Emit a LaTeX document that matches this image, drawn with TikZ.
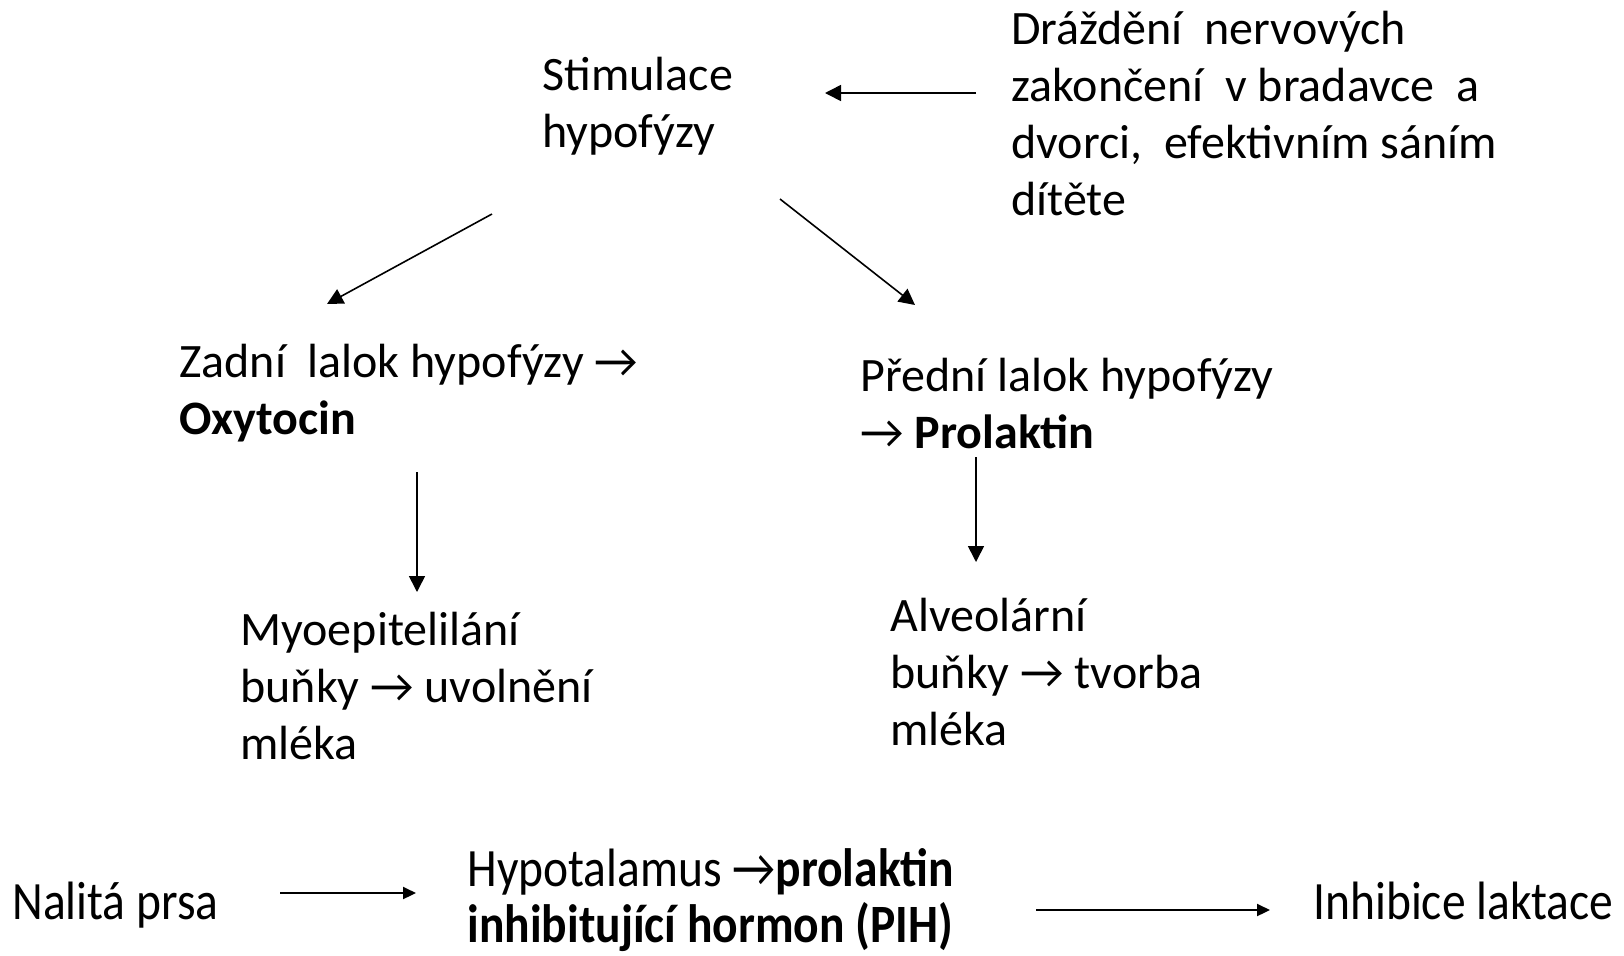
\documentclass[tikz,border=0pt]{standalone}
\usepackage{graphicx}
\usepackage{fontspec}
\setmainfont{Carlito}
\newfontfamily\squeezed[FakeStretch=0.88]{Carlito}
\usetikzlibrary{arrows.meta, calc, positioning}
\newcommand{\yields}{→}
\tikzset{
  txt/.style={inner sep=0pt, align=left, anchor=base west,
    font=\fontsize{24}{28.5}\selectfont},
  lowtxt/.style={inner sep=0pt, align=left, anchor=base west,
    font=\squeezed\fontsize{27}{28}\selectfont},
  flow/.style={-{Triangle[length=8pt,width=8pt]}, line width=0.8pt},
  lowflow/.style={-{Triangle[length=6.5pt,width=6pt]}, line width=1.1pt},
}
\begin{document}
\begin{tikzpicture}[x=0.5pt, y=-0.5pt]
  \useasboundingbox (0,0) rectangle (1624,955);
  % hypofyza (nodes sit on the baseline of their last line)
  \node[txt] (stim) at (542,147) {Stimulace\\hypofýzy};
  \node[txt] (drazd) at (1011,215) {Dráždění~ nervových\\zakončení~ v bradavce~ a\\dvorci,~ efektivním sáním\\dítěte};
  \node[txt] (zadni) at (179,434) {Zadní~ lalok hypofýzy \yields\\\textbf{Oxytocin}};
  \node[txt] (predni) at (860,448) {Přední lalok hypofýzy\\\yields{} \textbf{Prolaktin}};
  \node[txt] (myo) at (240,759) {Myoepitelilání\\buňky \yields{} uvolnění\\mléka};
  \node[txt] (alv) at (890,745) {Alveolární\\buňky \yields{} tvorba\\mléka};
  % inhibice
  \node[lowtxt] (nalita) at (12,919) {Nalitá prsa};
  \node[lowtxt] (hypot) at (467,942) {Hypotalamus \yields\textbf{prolaktin}\\\textbf{inhibitující hormon (PIH)}};
  \node[lowtxt] (inhib) at (1313,919) {Inhibice laktace};

  \draw[flow] ([shift={(-35,-122)}]drazd.base west) -- ([shift={(283,-54)}]stim.base west);
  \draw[flow] ([shift={(-50,67)}]stim.base west) -- ([shift={(148,-130)}]zadni.base west);
  \draw[flow] ([shift={(238,52)}]stim.base west) -- ([shift={(55,-143)}]predni.base west);
  \draw[flow] ([shift={(238,38)}]zadni.base west) -- ([shift={(177,-167)}]myo.base west);
  \draw[flow] ([shift={(116,9)}]predni.base west) -- ([shift={(86,-183)}]alv.base west);
  \draw[lowflow] ([shift={(268,-26)}]nalita.base west) -- ([shift={(-51,-49)}]hypot.base west);
  \draw[lowflow] ([shift={(569,-32)}]hypot.base west) -- ([shift={(-43,-9)}]inhib.base west);
\end{tikzpicture}
\end{document}
